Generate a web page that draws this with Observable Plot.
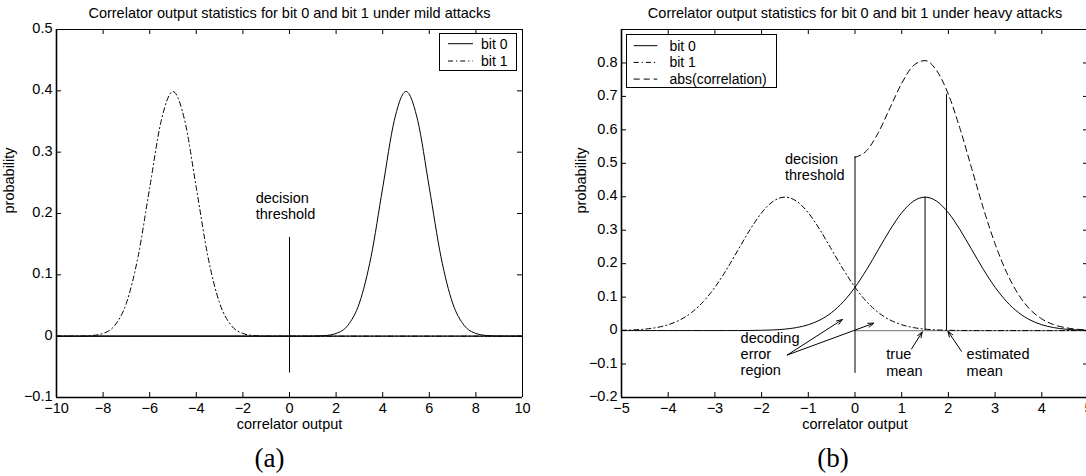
<!DOCTYPE html>
<html><head><meta charset="utf-8">
<script src="https://cdn.jsdelivr.net/npm/d3@7"></script>
<script src="https://cdn.jsdelivr.net/npm/@observablehq/plot@0.6"></script>
<style>
body{margin:0;background:#fff;}
#wrap{position:relative;width:1086px;height:476px;overflow:hidden;background:#fff;}
#wrap > svg{position:absolute;top:0;}
</style></head><body><div id="wrap"></div>
<script>
// ---------- Panel (a): mild attacks ----------
const titleA = "Correlator output statistics for bit 0 and bit 1 under mild attacks";
const xA = [-10,-9.5,-9,-8.5,-8,-7.5,-7,-6.5,-6,-5.5,-5,-4.5,-4,-3.5,-3,-2.5,-2,-1.5,-1,-0.5,0,0.5,1,1.5,2,2.5,3,3.5,4,4.5,5,5.5,6,6.5,7,7.5,8,8.5,9,9.5,10];
const bit1A = [0,0,0.0001,0.0009,0.0044,0.0175,0.054,0.1295,0.242,0.3521,0.3989,0.3521,0.242,0.1295,0.054,0.0175,0.0044,0.0009,0.0001,0,0,0,0,0,0,0,0,0,0,0,0,0,0,0,0,0,0,0,0,0,0];
const bit0A = [0,0,0,0,0,0,0,0,0,0,0,0,0,0,0,0,0,0,0,0,0,0,0.0001,0.0009,0.0044,0.0175,0.054,0.1295,0.242,0.3521,0.3989,0.3521,0.242,0.1295,0.054,0.0175,0.0044,0.0009,0.0001,0,0];
const xDomainA = [-10, 10];
const yDomainA = [-0.1, 0.5];
const xTicksA = [-10,-8,-6,-4,-2,0,2,4,6,8,10];
const yTicksA = [-0.1,0,0.1,0.2,0.3,0.4,0.5];
const legendA = ["bit 0", "bit 1"];
const baselineA = [{x1: -10, x2: 10, y: 0}];
const thresholdA = [{x: 0, y1: -0.06, y2: 0.161}];
const notesA = [{x: -1.45, y: 0.213, text: "decision\nthreshold"}];

// ---------- Panel (b): heavy attacks ----------
const titleB = "Correlator output statistics for bit 0 and bit 1 under heavy attacks";
const xB = [-5,-4.75,-4.5,-4.25,-4,-3.75,-3.5,-3.25,-3,-2.75,-2.5,-2.25,-2,-1.75,-1.5,-1.25,-1,-0.75,-0.5,-0.25,0,0.25,0.5,0.75,1,1.25,1.5,1.75,2,2.25,2.5,2.75,3,3.25,3.5,3.75,4,4.25,4.5,4.75,5];
const bit0B = [0,0,0,0,0,0,0,0,0,0,0.0001,0.0004,0.0009,0.002,0.0044,0.0091,0.0175,0.0317,0.054,0.0863,0.1295,0.1826,0.242,0.3011,0.3521,0.3867,0.3989,0.3867,0.3521,0.3011,0.242,0.1826,0.1295,0.0863,0.054,0.0317,0.0175,0.0091,0.0044,0.002,0.0009];
const bit1B = [0.0009,0.002,0.0044,0.0091,0.0175,0.0317,0.054,0.0863,0.1295,0.1826,0.242,0.3011,0.3521,0.3867,0.3989,0.3867,0.3521,0.3011,0.242,0.1826,0.1295,0.0863,0.054,0.0317,0.0175,0.0091,0.0044,0.002,0.0009,0.0004,0.0001,0,0,0,0,0,0,0,0,0,0];
const absXB = [0,0.25,0.5,0.75,1,1.25,1.5,1.75,2,2.25,2.5,2.75,3,3.25,3.5,3.75,4,4.25,4.5,4.75,5];
const absYB = [0.518,0.538,0.592,0.666,0.739,0.792,0.807,0.777,0.706,0.603,0.484,0.365,0.259,0.173,0.108,0.063,0.035,0.018,0.009,0.004,0.002];
const xDomainB = [-5, 5];
const yDomainB = [-0.2, 0.9];
const xTicksB = [-5,-4,-3,-2,-1,0,1,2,3,4,5];
const yTicksB = [-0.2,-0.1,0,0.1,0.2,0.3,0.4,0.5,0.6,0.7,0.8];
const legendB = ["bit 0", "bit 1", "abs(correlation)"];
const rulesB = [
  {x: 0, y1: -0.128, y2: 0.52},
  {x: 1.5, y1: 0, y2: 0.399},
  {x: 1.96, y1: 0, y2: 0.706}
];
const baselineB = [{x1: 0, x2: 5, y: 0}];
const arrowsB = [
  {x1: -1.45, y1: -0.073, x2: -0.27, y2: 0.033},
  {x1: -1.45, y1: -0.073, x2: 0.40, y2: 0.022},
  {x1: 1.21, y1: -0.055, x2: 1.44, y2: -0.004},
  {x1: 2.28, y1: -0.062, x2: 1.99, y2: -0.002}
];
const notesB = [
  {x: -1.50, y: 0.49, text: "decision\nthreshold"},
  {x: -2.45, y: -0.07, text: "decoding\nerror\nregion"},
  {x: 0.67, y: -0.095, text: "true\nmean"},
  {x: 2.39, y: -0.095, text: "estimated\nmean"}
];

// ---------- styles ----------
const FONT = "'Liberation Sans', Arial, Helvetica, sans-serif";
const FS = 14.5;
const DASHDOT = "5,3,1.2,3";
const DASHED = "6,4";
const styles = [null, DASHDOT, DASHED];
const CURVE = "monotone-x";
const fmt = d => (d < 0 ? "\u2212" : "") + Math.abs(d);

function panel(o) {
  const FW = o.width - o.ml - o.mr;
  const FH = o.height - o.mt - o.mb;
  const marks = [
    ...o.extra,
    // frame borders
    Plot.ruleX([o.xd[0]], {strokeWidth: 1.6}),
    Plot.ruleY([o.yd[0]], {strokeWidth: 1.6}),
    Plot.ruleX([o.xd[1]], {strokeWidth: 1}),
    Plot.ruleY([o.yd[1]], {strokeWidth: 1}),
    // inward ticks on all sides
    Plot.tickX(o.xt, {x: d => d, insetTop: FH - 5, strokeWidth: 1}),
    Plot.tickX(o.xt, {x: d => d, insetBottom: FH - 5, strokeWidth: 1}),
    Plot.tickY(o.yt, {y: d => d, insetRight: FW - 5, strokeWidth: 1}),
    Plot.tickY(o.yt, {y: d => d, insetLeft: FW - 5, strokeWidth: 1}),
    Plot.axisX({ticks: o.xt, tickSize: 0, tickPadding: 5, tickFormat: fmt, label: null, fontSize: FS}),
    Plot.axisY({ticks: o.yt, tickSize: 0, tickPadding: 4, tickFormat: fmt, label: null, fontSize: FS, dy: -1}),
    // titles and labels
    Plot.text([o.title], {text: d => d, frameAnchor: "top", dy: -16, lineAnchor: "middle", fontSize: FS}),
    Plot.text(["correlator output"], {text: d => d, frameAnchor: "bottom", dy: 27, lineAnchor: "middle", fontSize: FS}),
    Plot.text(["probability"], {text: d => d, frameAnchor: "left", dx: o.ylabDx, rotate: -90, lineAnchor: "middle", fontSize: FS}),
    Plot.text([o.tag], {text: d => d, frameAnchor: "bottom", dx: o.tagDx, dy: 61, lineAnchor: "middle", fontSize: 27, fontFamily: "'Liberation Serif', 'DejaVu Serif', serif"})
  ];
  return Plot.plot({
    width: o.width, height: o.height,
    marginLeft: o.ml, marginRight: o.mr, marginTop: o.mt, marginBottom: o.mb,
    x: {domain: o.xd},
    y: {domain: o.yd},
    style: {fontFamily: FONT, fontSize: FS + "px", background: "transparent", overflow: "visible", color: "black"},
    marks
  });
}

function addLegend(svg, names, box) {
  const g = d3.select(svg).append("g").attr("font-family", FONT).attr("font-size", 14).attr("text-anchor", "start");
  g.append("rect").attr("x", box.x).attr("y", box.y).attr("width", box.w).attr("height", box.h)
    .attr("fill", "white").attr("stroke", "black").attr("stroke-width", 1);
  names.forEach((n, i) => {
    const yy = box.row0 + i * box.step;
    g.append("line").attr("x1", box.l1).attr("x2", box.l2).attr("y1", yy).attr("y2", yy)
      .attr("stroke", "black").attr("stroke-width", 1).attr("stroke-dasharray", styles[i]);
    g.append("text").attr("x", box.tx).attr("y", yy).attr("dy", "0.35em").attr("text-anchor", "start").attr("fill", "black").text(n);
  });
}

const dataA = xA.map((x, i) => ({x, bit0: bit0A[i], bit1: bit1A[i]}));
const dataB = xB.map((x, i) => ({x, bit0: bit0B[i], bit1: bit1B[i]}));
const dataAbs = absXB.map((x, i) => ({x, y: absYB[i]}));

const svgA = panel({
  width: 543, height: 476, ml: 56, mr: 21, mt: 29, mb: 79,
  xd: xDomainA, yd: yDomainA, xt: xTicksA, yt: yTicksA,
  title: titleA, tag: "(a)", tagDx: -20, ylabDx: -47,
  extra: [
    Plot.ruleY(baselineA, {x1: "x1", x2: "x2", y: "y", stroke: "black", strokeWidth: 1.2}),
    Plot.line(dataA, {x: "x", y: "bit1", curve: CURVE, stroke: "black", strokeWidth: 1, strokeDasharray: DASHDOT}),
    Plot.line(dataA, {x: "x", y: "bit0", curve: CURVE, stroke: "black", strokeWidth: 1}),
    Plot.ruleX(thresholdA, {x: "x", y1: "y1", y2: "y2", strokeWidth: 1}),
    Plot.text(notesA, {x: "x", y: "y", text: "text", textAnchor: "start", lineAnchor: "middle", lineHeight: 1.12, fontSize: FS})
  ]
});
svgA.style.left = "0px";

const svgB = panel({
  width: 565, height: 476, ml: 78, mr: 20, mt: 29, mb: 79,
  xd: xDomainB, yd: yDomainB, xt: xTicksB, yt: yTicksB,
  title: titleB, tag: "(b)", tagDx: -22, ylabDx: -40,
  extra: [
    Plot.ruleY(baselineB, {x1: "x1", x2: "x2", y: "y", stroke: "#8a8a8a", strokeWidth: 1.2}),
    Plot.line(dataB, {x: "x", y: "bit1", curve: CURVE, stroke: "black", strokeWidth: 1, strokeDasharray: DASHDOT}),
    Plot.line(dataAbs, {x: "x", y: "y", curve: CURVE, stroke: "black", strokeWidth: 1, strokeDasharray: DASHED}),
    Plot.line(dataB, {x: "x", y: "bit0", curve: CURVE, stroke: "black", strokeWidth: 1}),
    Plot.ruleX(rulesB, {x: "x", y1: "y1", y2: "y2", strokeWidth: 1}),
    Plot.arrow(arrowsB, {x1: "x1", y1: "y1", x2: "x2", y2: "y2", stroke: "black", strokeWidth: 1, headLength: 9, headAngle: 40}),
    Plot.text(notesB, {x: "x", y: "y", text: "text", textAnchor: "start", lineAnchor: "middle", lineHeight: 1.12, fontSize: FS})
  ]
});
svgB.style.left = "543px";

const wrap = document.getElementById("wrap");
wrap.appendChild(svgA);
wrap.appendChild(svgB);

addLegend(svgA, legendA, {x: 439.5, y: 33.5, w: 77, h: 37, row0: 43.7, step: 17.3, l1: 448, l2: 473, tx: 481});
addLegend(svgB, legendB, {x: 83.5, y: 34.5, w: 150, h: 53, row0: 45.7, step: 16.7, l1: 90.7, l2: 114.3, tx: 126.4});
</script></body></html>
